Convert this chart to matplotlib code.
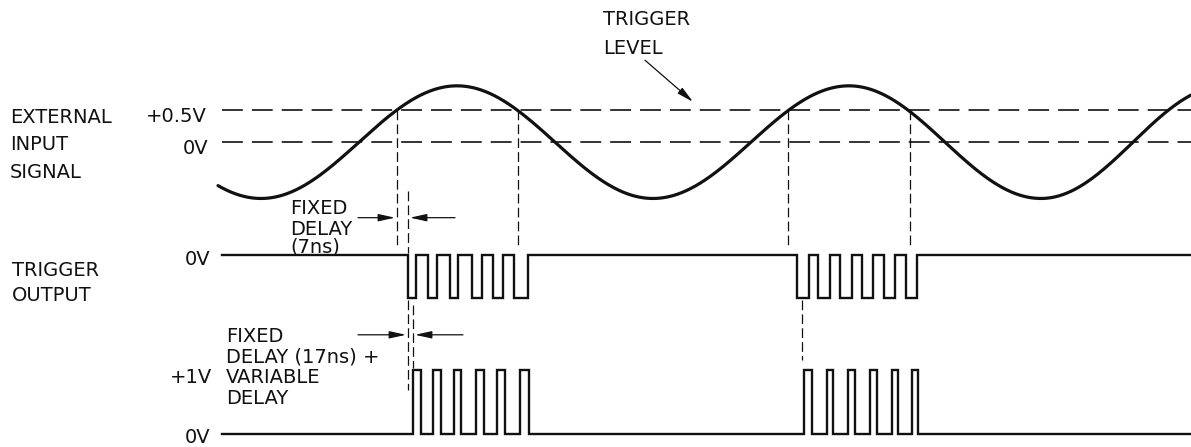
import matplotlib.pyplot as plt
import numpy as np

plt.rcParams['font.family'] = ['DejaVu Sans']
plt.rcParams['lines.scale_dashes'] = False

# ---- data (time in drawing units, levels in volts) ----
t_start, t_end = 222, 1191

# external input signal: times and levels of its extremes
ext_t = [65, 261, 457, 653, 849, 1041, 1225]
ext_v = [0.88, -0.88, 0.88, -0.88, 0.88, -0.88, 0.88]
ext_first_t = 218
trigger_level = 0.5
crossings = [397, 518, 788, 910]

# trigger output: edge times (first edge is a fall from 0V)
trig_edges = [408, 416, 428, 437, 450, 458, 472, 482, 493, 503, 514, 528,
              797, 809, 818, 830, 840, 852, 862, 873, 884, 895, 906, 917]
trig_levels = (0.0, -0.67)

# delayed output: edge times (first edge is a rise to +1V)
out_edges = [413, 421, 433, 441, 454, 461, 476, 484, 497, 505, 520, 529,
             804, 812, 827, 833, 848, 855, 870, 877, 892, 898, 912, 918]
out_levels = (0.0, 1.0)

# vertical offsets of the three traces
input_base = 4.56
trig_base = 2.80
out_base = 0.0


def half_cosine(ts, vs, x):
    y = np.empty_like(x)
    for t0, t1, v0, v1 in zip(ts[:-1], ts[1:], vs[:-1], vs[1:]):
        m = (x >= t0) & (x <= t1)
        y[m] = (v0 + v1) / 2 + (v0 - v1) / 2 * np.cos(np.pi * (x[m] - t0) / (t1 - t0))
    return y


def steps(edges, levels):
    xs, ys = [t_start], [levels[0]]
    cur = 0
    for e in edges:
        xs += [e, e]
        ys += [levels[cur], levels[1 - cur]]
        cur = 1 - cur
    xs.append(t_end)
    ys.append(levels[cur])
    return np.array(xs), np.array(ys)


fig = plt.figure(figsize=(11.91, 4.47), dpi=100)
ax = fig.add_axes([0, 0, 1, 1])
ax.set_xlim(0, 1191)
ax.set_ylim(-0.203, 6.781)
ax.axis('off')

ink = '#111111'
long_dash = dict(color=ink, lw=1.2, dashes=(15, 6.5))
short_dash = dict(color=ink, lw=0.9, dashes=(7, 3))

# reference levels of the input
ax.plot([t_start, t_end], [input_base + trigger_level] * 2, **long_dash)
ax.plot([t_start, t_end], [input_base] * 2, **long_dash)

# input sine
x = np.linspace(ext_first_t, t_end, 1500)
ax.plot(x, input_base + half_cosine(ext_t, ext_v, x), color=ink, lw=2.3,
        solid_capstyle='round')

# trigger output and delayed output
tx, ty = steps(trig_edges, trig_levels)
ax.plot(tx, trig_base + ty, color=ink, lw=1.7, solid_joinstyle='miter')
ox, oy = steps(out_edges, out_levels)
ax.plot(ox, out_base + oy, color=ink, lw=1.7, solid_joinstyle='miter')

# guide lines from the trigger-level crossings down to the output
for c in crossings:
    ax.plot([c, c], [input_base + trigger_level, trig_base + 0.1], **short_dash)
ax.plot([trig_edges[0]] * 2, [trig_base + 1.0, trig_base + 0.03], **short_dash)
ax.plot([trig_edges[0]] * 2, [trig_base - 0.71, 0.69], **short_dash)
ax.plot([out_edges[0]] * 2, [trig_base - 0.78, out_base + 1.03], **short_dash)
ax.plot([trig_edges[12] + 5] * 2, [trig_base - 0.71, out_base + 1.16], **short_dash)

# delay arrows
arrow = dict(arrowstyle='-|>,head_length=1.0,head_width=0.22', color=ink,
             lw=0.9, mutation_scale=10, shrinkA=0, shrinkB=0)
y1 = 3.38
ax.annotate('', xy=(crossings[0] - 2, y1), xytext=(358, y1), arrowprops=arrow)
ax.annotate('', xy=(trig_edges[0] + 2, y1), xytext=(455, y1), arrowprops=arrow)
y2 = 1.55
ax.annotate('', xy=(trig_edges[0] - 2, y2), xytext=(358, y2), arrowprops=arrow)
ax.annotate('', xy=(out_edges[0] + 2, y2), xytext=(463, y2), arrowprops=arrow)
ax.annotate('', xy=(693, 5.19), xytext=(645, 5.84), arrowprops=arrow)

# text
fs = 14
txt = dict(fontsize=fs, color=ink, va='center_baseline')
ax.text(603, 6.50, 'TRIGGER', **txt)
ax.text(603, 6.05, 'LEVEL', **txt)

ax.text(10, 4.98, 'EXTERNAL', **txt)
ax.text(10, 4.55, 'INPUT', **txt)
ax.text(10, 4.11, 'SIGNAL', **txt)
ax.text(207, 4.99, '+0.5V', ha='right', **txt)
ax.text(208, 4.49, '0V', ha='right', **txt)

ax.text(12, 2.58, 'TRIGGER', **txt)
ax.text(12, 2.19, 'OUTPUT', **txt)
ax.text(210, 2.76, '0V', ha='right', **txt)

ax.text(290, 3.56, 'FIXED', **txt)
ax.text(290, 3.23, 'DELAY', **txt)
ax.text(290, 2.95, '(7ns)', **txt)

ax.text(226, 1.55, 'FIXED', **txt)
ax.text(226, 1.23, 'DELAY (17ns) +', **txt)
ax.text(226, 0.91, 'VARIABLE', **txt)
ax.text(226, 0.58, 'DELAY', **txt)
ax.text(212, 0.92, '+1V', ha='right', **txt)
ax.text(210, -0.02, '0V', ha='right', **txt)

fig.savefig('out.png', dpi=100)
